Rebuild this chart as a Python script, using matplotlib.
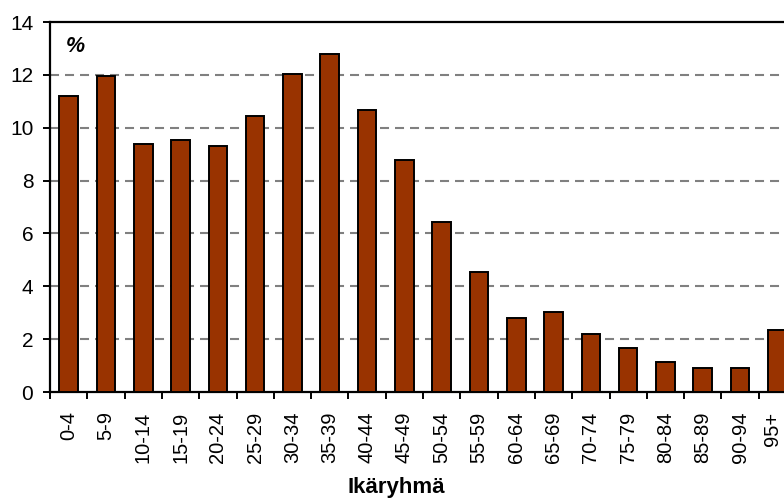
import matplotlib
matplotlib.use("Agg")
import matplotlib.pyplot as plt
import matplotlib.transforms as mtransforms
import numpy as np

categories = ["0-4", "5-9", "10-14", "15-19", "20-24", "25-29", "30-34", "35-39",
              "40-44", "45-49", "50-54", "55-59", "60-64", "65-69", "70-74",
              "75-79", "80-84", "85-89", "90-94", "95+"]
values = [11.2, 11.95, 9.38, 9.53, 9.31, 10.44, 12.02, 12.79, 10.67, 8.78,
          6.44, 4.53, 2.80, 3.04, 2.19, 1.68, 1.14, 0.92, 0.92, 2.35]
yticks = [0, 2, 4, 6, 8, 10, 12, 14]

plt.rcParams['font.family'] = ['Liberation Sans', 'DejaVu Sans']
plt.rcParams['lines.scale_dashes'] = False

fig = plt.figure(figsize=(7.84, 4.99), dpi=100)
ax = fig.add_axes([50/784, 1-392/499, 746/784, (392-22)/499])

x = np.arange(len(categories))
ax.bar(x, values, width=0.5, color="#993300", edgecolor="black", linewidth=1.4, zorder=3)

ax.set_xlim(-0.5, len(categories) - 0.5)
ax.set_ylim(0, 14)
ax.set_yticks(yticks)
ax.set_yticklabels([str(t) for t in yticks], fontsize=15)
for t in yticks[1:-1]:
    ax.axhline(t, color="#808080", linewidth=1.5, dashes=(6.5, 4.3), zorder=1)

ax.set_xticks(x)
ax.set_xticklabels(categories, rotation=90, fontsize=14.5, va="top")
ax.set_xticks(np.arange(-0.5, len(categories) + 0.5, 1), minor=True)
ax.tick_params(axis='x', which='major', length=0, pad=14)
ax.tick_params(axis='x', which='minor', length=5, width=1.4, direction='out')
ax.tick_params(axis='y', which='major', length=5, width=1.4, direction='out', pad=7)

# shift the last label slightly left so it stays within the figure
last = ax.get_xticklabels()[-1]
last.set_transform(last.get_transform() + mtransforms.ScaledTranslation(-5/100, 0, fig.dpi_scale_trans))

for s in ['left', 'bottom', 'top']:
    ax.spines[s].set_linewidth(1.6)
ax.spines['right'].set_visible(False)

ax.text((66-50)/746, 1 - (47-22)/370, "%", transform=ax.transAxes, fontsize=15.5,
        fontweight="bold", fontstyle="italic", ha="left", va="center")

ax.set_xlabel("Ikäryhmä", fontsize=16, fontweight="bold")
ax.xaxis.set_label_coords((396-50)/746, -(487-392)/370)
ax.xaxis.label.set_va("center")

fig.savefig("out.png", dpi=100)
